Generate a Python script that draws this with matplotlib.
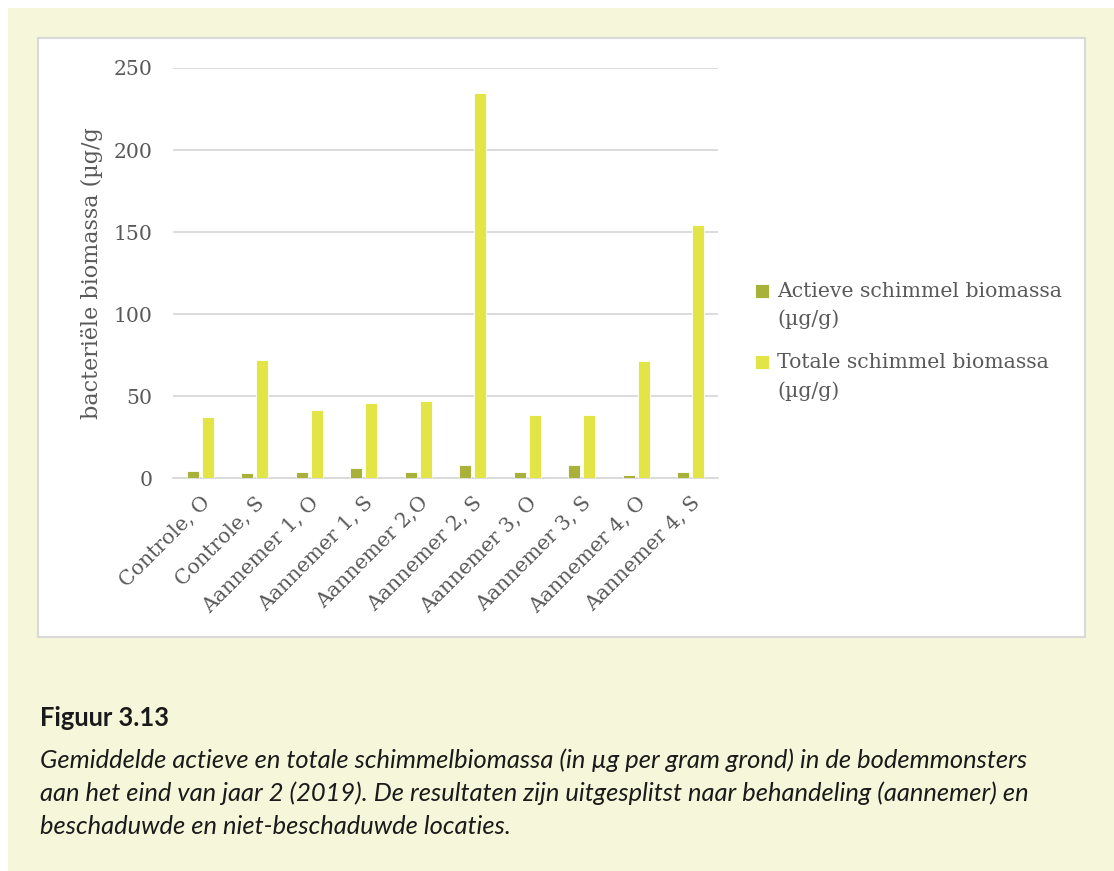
import numpy as np
import matplotlib.pyplot as plt
from matplotlib.patches import Rectangle
from matplotlib.container import BarContainer
from matplotlib.legend_handler import HandlerPatch, update_from_first_child

# Values (µg/g)
categories = ["Controle, O", "Controle, S", "Aannemer 1, O", "Aannemer 1, S",
              "Aannemer 2,O", "Aannemer 2, S", "Aannemer 3, O", "Aannemer 3, S",
              "Aannemer 4, O", "Aannemer 4, S"]
actieve = [4.1, 2.8, 3.5, 6.1, 3.9, 7.8, 3.5, 7.8, 1.7, 3.5]
totale = [37.2, 72.0, 41.5, 45.7, 47.0, 234.8, 38.4, 38.4, 71.3, 154.3]
series_names = ["Actieve schimmel biomassa\n(µg/g)", "Totale schimmel biomassa\n(µg/g)"]
y_ticks = [0, 50, 100, 150, 200, 250]

caption_title = "Figuur 3.13"
caption_lines = [
    "Gemiddelde actieve en totale schimmelbiomassa (in µg per gram grond) in de bodemmonsters",
    "aan het eind van jaar 2 (2019). De resultaten zijn uitgesplitst naar behandeling (aannemer) en",
    "beschaduwde en niet-beschaduwde locaties.",
]

col_act = "#a8b23a"
col_tot = "#e2e545"
text_col = "#595959"
grid_col = "#d9d9d9"
serif = ["DejaVu Serif"]
fs = 14.7

W, H = 1114, 871
fig = plt.figure(figsize=(W / 100, H / 100), dpi=100)
fig.patch.set_facecolor("white")

# page background and chart box
fig.patches.append(Rectangle((8 / W, 0), 1 - 8 / W, 1 - 8 / H, transform=fig.transFigure,
                             facecolor="#f6f6da", edgecolor="none", zorder=-3))
fig.patches.append(Rectangle((38 / W, 1 - 637 / H), (1085 - 38) / W, (637 - 38) / H,
                             transform=fig.transFigure, facecolor="white",
                             edgecolor="#d9d9d9", linewidth=1.5, zorder=-2))

ax = fig.add_axes([173 / W, 1 - 478 / H, (718 - 173) / W, (478 - 68) / H])
ax.set_facecolor("none")

x = np.arange(len(categories))
w = 0.22
off = 0.142
ax.bar(x - off, actieve, w, color=col_act, edgecolor="white", linewidth=0.6,
       label=series_names[0], zorder=3)
ax.bar(x + off, totale, w, color=col_tot, edgecolor="white", linewidth=0.6,
       label=series_names[1], zorder=3)

ax.set_xlim(-0.5, len(categories) - 0.5)
ax.set_ylim(0, 250)
ax.set_yticks(y_ticks)
ax.yaxis.grid(True, color=grid_col, linewidth=1.3, zorder=0)
ax.set_axisbelow(True)
for s in ["top", "right", "left"]:
    ax.spines[s].set_visible(False)
ax.spines["bottom"].set_color(grid_col)
ax.spines["bottom"].set_linewidth(1.3)
ax.tick_params(axis="both", length=0, colors=text_col)
ax.tick_params(axis="y", pad=15)
for t in ax.get_yticklabels():
    t.set_fontfamily(serif)
    t.set_fontsize(fs)

ax.set_xticks(x)
ax.set_xticklabels(categories, rotation=45, ha="right", rotation_mode="anchor",
                   fontfamily=serif, fontsize=fs, color=text_col)
ax.tick_params(axis="x", pad=11)

# y label (clipped in the original, kept as it reads)
fig.text(92 / W, 1 - 273 / H, "bacteriële biomassa (µg/g", rotation=90,
         ha="center", va="center", fontfamily=serif, fontsize=16, color=text_col)


# legend square sits next to the first line of the two-line label
def top_square(legend, orig_handle, xdescent, ydescent, width, height, fontsize):
    return Rectangle((-xdescent, -ydescent + 10.4), width, width)


leg = ax.legend(loc="upper left", bbox_to_anchor=(755 / W, 1 - 282 / H),
                bbox_transform=fig.transFigure, frameon=False,
                prop={"family": serif, "size": fs}, labelcolor=text_col,
                handlelength=0.685, handleheight=0.55, handletextpad=0.4,
                labelspacing=1.19, borderpad=0, borderaxespad=0,
                handler_map={BarContainer: HandlerPatch(patch_func=top_square,
                                                        update_func=update_from_first_child)})
for t in leg.get_texts():
    t.set_linespacing(1.54)

# caption
fig.text(40 / W, 1 - 718 / H, caption_title, fontfamily="Lato", fontweight="bold",
         fontsize=18.4, color="#1a1a1a", va="center")
for i, line in enumerate(caption_lines):
    fig.text(40 / W, 1 - (760 + 33 * i) / H, line, fontfamily="Lato", fontstyle="italic",
             fontsize=18.4, color="#1a1a1a", va="center")

fig.savefig("out.png", dpi=100)
